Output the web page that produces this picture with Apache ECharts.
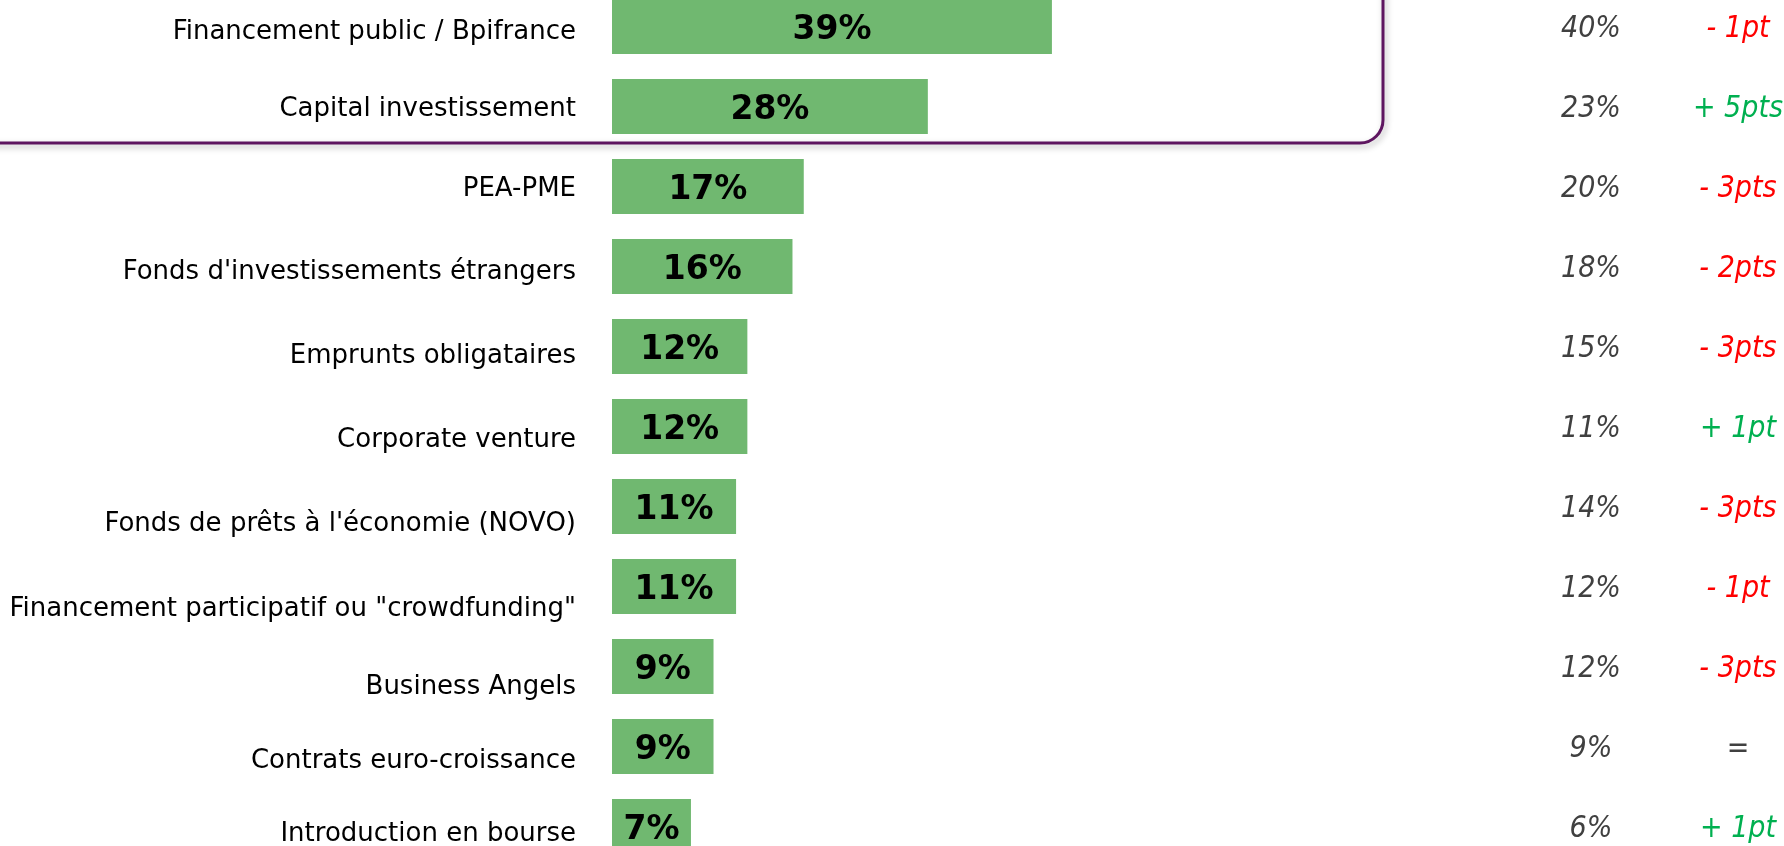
<!DOCTYPE html>
<html>
<head>
<meta charset="utf-8">
<script src="https://cdn.jsdelivr.net/npm/echarts@6/dist/echarts.min.js"></script>
<style>
  html, body { margin: 0; padding: 0; background: #fff; }
  #main { width: 1784px; height: 846px; }
</style>
</head>
<body>
<div id="main"></div>
<script>
// data
var categories = [
    'Financement public / Bpifrance',
    'Capital investissement',
    'PEA-PME',
    "Fonds d'investissements étrangers",
    'Emprunts obligataires',
    'Corporate venture',
    "Fonds de prêts à l'économie (NOVO)",
    'Financement participatif ou "crowdfunding"',
    'Business Angels',
    'Contrats euro-croissance',
    'Introduction en bourse'
];
var current = [39, 28, 17, 16, 12, 12, 11, 11, 9, 9, 7];
var previous = [40, 23, 20, 18, 15, 11, 14, 12, 12, 9, 6];
var deltas = ['- 1pt', '+ 5pts', '- 3pts', '- 2pts', '- 3pts', '+ 1pt', '- 3pts', '- 1pt', '- 3pts', '=', '+ 1pt'];

// small vertical nudge of the left labels (px), as in the original slide
var labelShift = [3, 0, 0, 3, 7, 11, 15, 20, 18, 12, 5];
var BASE_SHIFT = 3;

var FONT = '"DejaVu Sans", sans-serif';
var FONT_C = '"DejaVu Sans Condensed", "DejaVu Sans", sans-serif';

var leftRich = {};
labelShift.forEach(function (s, i) {
    leftRich['s' + i] = {
        fontFamily: FONT,
        fontSize: 26,
        color: '#000',
        padding: [2 * (s + BASE_SHIFT), 0, 0, 0]
    };
});

function deltaKey(d) {
    if (d.charAt(0) == '+') return 'up';
    if (d.charAt(0) == '-') return 'dn';
    return 'eq';
}

function italic(color, w) {
    return {
        width: w, align: 'center',
        padding: [2 * BASE_SHIFT, 0, 0, 0],
        fontFamily: FONT_C, fontSize: 30, fontStyle: 'italic', color: color
    };
}

var myChart = echarts.init(document.getElementById('main'));

var option = {
    animation: false,
    grid: { left: 612, right: 44, top: -13.5, bottom: -20.5, outerBoundsMode: 'none' },
    xAxis: {
        type: 'value',
        min: 0,
        max: 100,
        show: false
    },
    yAxis: [
        {
            type: 'category',
            data: categories,
            inverse: true,
            axisLine: { show: false },
            axisTick: { show: false },
            axisLabel: {
                margin: 36,
                formatter: function (v, i) { return '{s' + i + '|' + v + '}'; },
                rich: leftRich
            }
        },
        {
            type: 'category',
            data: categories,
            inverse: true,
            position: 'right',
            axisLine: { show: false },
            axisTick: { show: false },
            axisLabel: {
                margin: -220,
                align: 'left',
                formatter: function (v, i) {
                    return '{p|' + previous[i] + '%}{' + deltaKey(deltas[i]) + '|' + deltas[i] + '}';
                },
                rich: {
                    p: italic('#404040', 142),
                    up: italic('#00b050', 152),
                    dn: italic('#ff0000', 152),
                    eq: italic('#404040', 152)
                }
            }
        }
    ],
    series: [
        {
            name: 'current',
            type: 'bar',
            data: current,
            barWidth: 55,
            itemStyle: { color: '#70b870' },
            label: {
                show: true,
                position: 'inside',
                offset: [0, 4],
                formatter: '{c}%',
                fontFamily: FONT,
                fontWeight: 'bold',
                fontSize: 33,
                color: '#000'
            }
        }
    ]
};

myChart.setOption(option);

// purple rounded frame around the first two rows
var yLast = myChart.convertToPixel({ yAxisIndex: 0 }, categories[1]);
var frameBottom = yLast + 36.5;
myChart.setOption({
    graphic: [{
        type: 'rect',
        z: -1,
        shape: { x: -40, y: -40, width: 1423, height: frameBottom + 40, r: 23 },
        style: {
            fill: 'none',
            stroke: '#5e1660',
            lineWidth: 3,
            shadowColor: 'rgba(0,0,0,0.28)',
            shadowBlur: 6,
            shadowOffsetX: 2,
            shadowOffsetY: 3
        }
    }]
});
</script>
</body>
</html>
